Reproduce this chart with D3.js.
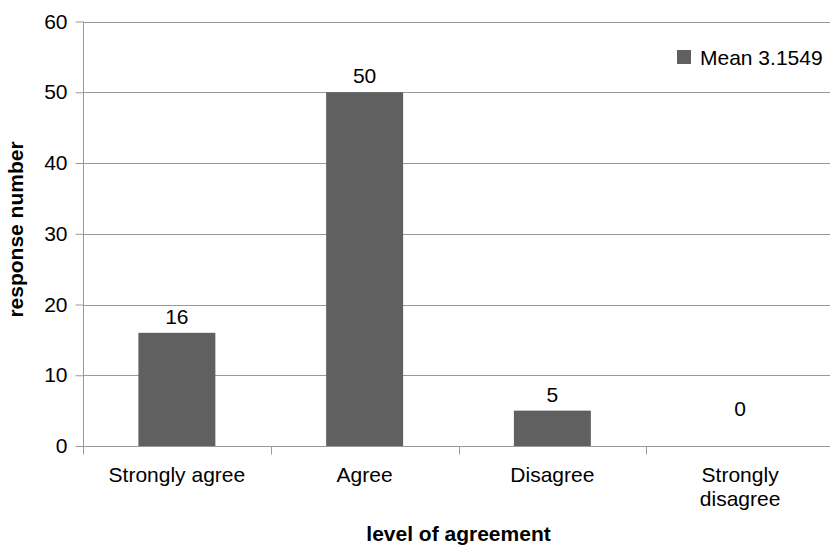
<!DOCTYPE html>
<html>
<head>
<meta charset="utf-8">
<script src="https://cdn.jsdelivr.net/npm/d3@7"></script>
<style>
  body { margin: 0; background: #fff; }
  text { font-family: "Liberation Sans", Arial, sans-serif; fill: #000; }
</style>
</head>
<body>
<script>
var categories = ["Strongly agree", "Agree", "Disagree", "Strongly disagree"];
var counts = [16, 50, 5, 0];
var yTicks = [0, 10, 20, 30, 40, 50, 60];
var seriesName = "Mean 3.1549";

(function() {
    var width = 830, height = 547,
        plotLeft = 83, plotRight = 834, plotTop = 21.5, plotBottom = 446,
        fontSize = "21px";

    var svg = d3.select("body").append("svg")
        .attr("width", width)
        .attr("height", height);

    var x = d3.scaleBand().domain(categories).range([plotLeft, plotRight]).paddingInner(0.59).paddingOuter(0.295);
    var xb = d3.scaleBand().domain(categories).range([plotLeft, plotRight]);
    var y = d3.scaleLinear().domain([0, 60]).range([plotBottom, plotTop]);

    // gridlines
    svg.append("g").selectAll("line").data(yTicks.filter(function(d) { return d > 0; }))
        .enter().append("line")
        .attr("x1", plotLeft).attr("x2", plotRight)
        .attr("y1", function(d) { return Math.round(y(d)) + 0.5; })
        .attr("y2", function(d) { return Math.round(y(d)) + 0.5; })
        .attr("stroke", "#999").attr("stroke-width", 1);

    // bars
    svg.append("g").selectAll("rect").data(counts)
        .enter().append("rect")
        .attr("x", function(d, i) { return x(categories[i]); })
        .attr("width", x.bandwidth())
        .attr("y", function(d) { return y(d); })
        .attr("height", function(d) { return plotBottom - y(d); })
        .attr("fill", "#606060");

    // value labels (zero label sits a little above the axis, like the original)
    svg.append("g").selectAll("text").data(counts)
        .enter().append("text")
        .attr("x", function(d, i) { return x(categories[i]) + x.bandwidth() / 2; })
        .attr("y", function(d) { return y(Math.max(d, 3)) - 9; })
        .attr("text-anchor", "middle")
        .style("font-size", fontSize)
        .text(function(d) { return d; });

    // y axis
    var yAxis = svg.append("g").attr("transform", "translate(" + (plotLeft + 0.5) + ",0)")
        .call(d3.axisLeft(y).tickValues(yTicks).tickSize(8).tickPadding(8));
    yAxis.select(".domain").attr("stroke", "#999").attr("d", "M0," + plotTop + "V" + plotBottom);
    yAxis.selectAll(".tick line").attr("stroke", "#999");
    yAxis.selectAll(".tick text").style("font-size", fontSize).style("font-family", "Liberation Sans, Arial, sans-serif");

    // x axis
    var xAxis = svg.append("g").attr("transform", "translate(0," + (plotBottom + 0.5) + ")");
    xAxis.append("line").attr("x1", plotLeft).attr("x2", plotRight).attr("stroke", "#999");
    xAxis.selectAll(".xt").data(categories.concat(["end"]))
        .enter().append("line")
        .attr("x1", function(d, i) { return Math.round(plotLeft + i * xb.bandwidth()) + 0.5; })
        .attr("x2", function(d, i) { return Math.round(plotLeft + i * xb.bandwidth()) + 0.5; })
        .attr("y1", 0).attr("y2", 8)
        .attr("stroke", "#999");

    var labels = svg.append("g").selectAll("text").data(categories)
        .enter().append("text")
        .attr("x", function(d) { return xb(d) + xb.bandwidth() / 2; })
        .attr("y", 482)
        .attr("text-anchor", "middle")
        .style("font-size", fontSize);
    labels.each(function(d) {
        var t = d3.select(this);
        var words = d === "Strongly disagree" ? ["Strongly", "disagree"] : [d];
        words.forEach(function(w, i) {
            t.append("tspan").attr("x", xb(d) + xb.bandwidth() / 2).attr("dy", i === 0 ? 0 : 24).text(w);
        });
    });

    // axis titles
    svg.append("text")
        .attr("x", 458.5).attr("y", 541)
        .attr("text-anchor", "middle")
        .style("font-size", "21px").style("font-weight", "bold")
        .text("level of agreement");

    svg.append("text")
        .attr("transform", "translate(23,229.5) rotate(-90)")
        .attr("text-anchor", "middle")
        .style("font-size", "21px").style("font-weight", "bold")
        .text("response number");

    // legend
    var legend = svg.append("g").attr("transform", "translate(677,50)");
    legend.append("rect").attr("width", 14).attr("height", 14).attr("fill", "#606060");
    legend.append("text").attr("x", 23).attr("y", 15).style("font-size", fontSize).text(seriesName);
})();
</script>
</body>
</html>
